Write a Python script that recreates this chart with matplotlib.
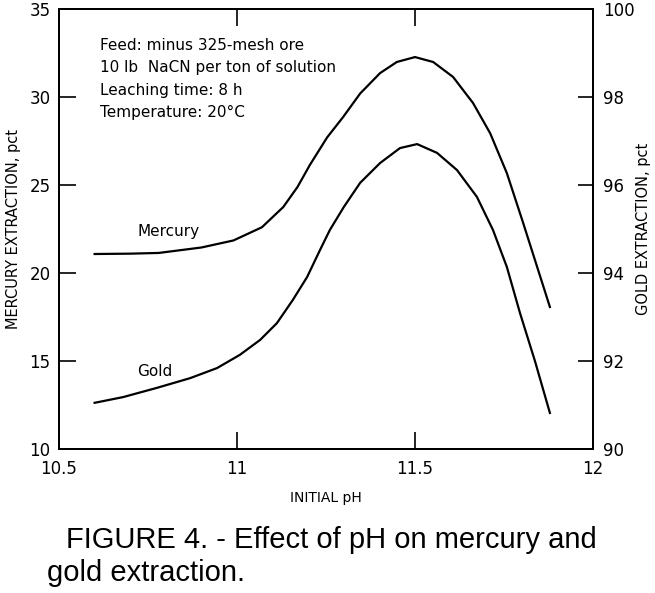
import matplotlib
matplotlib.use("Agg")
import matplotlib.pyplot as plt

# Mercury extraction, pct (left axis) vs initial pH
mercury_ph = [10.60, 10.70, 10.78, 10.90, 10.99, 11.07, 11.13, 11.17, 11.205, 11.253,
              11.298, 11.346, 11.402, 11.449, 11.50, 11.551, 11.607, 11.663, 11.711,
              11.758, 11.803, 11.851, 11.879]
mercury_pct = [21.08, 21.10, 21.14, 21.45, 21.85, 22.6, 23.75, 24.89, 26.15, 27.7,
               28.86, 30.2, 31.36, 31.99, 32.27, 31.99, 31.14, 29.66, 27.95,
               25.68, 22.9, 19.85, 18.07]

# Gold extraction, pct (right axis) vs initial pH
gold_ph = [10.60, 10.68, 10.775, 10.868, 10.944, 11.008, 11.065, 11.112, 11.157, 11.197,
           11.233, 11.261, 11.30, 11.346, 11.402, 11.458, 11.506, 11.562, 11.618,
           11.674, 11.719, 11.758, 11.795, 11.837, 11.879]
gold_pct = [91.05, 91.18, 91.39, 91.61, 91.84, 92.14, 92.48, 92.86, 93.39, 93.91,
            94.52, 94.98, 95.5, 96.05, 96.5, 96.84, 96.93, 96.73, 96.34,
            95.73, 94.98, 94.14, 93.09, 92.0, 90.82]

conditions = ("Feed: minus 325-mesh ore\n"
              "10 lb  NaCN per ton of solution\n"
              "Leaching time: 8 h\n"
              "Temperature: 20\u00b0C")

fig = plt.figure(figsize=(6.55, 5.93), dpi=100)
ax = fig.add_axes([0.0901, 0.2428, 0.8152, 0.7420])
ax2 = ax.twinx()

ax.plot(mercury_ph, mercury_pct, color="black", lw=1.6, solid_joinstyle="round")
ax2.plot(gold_ph, gold_pct, color="black", lw=1.6, solid_joinstyle="round")

ax.set_xlim(10.5, 12)
ax.set_ylim(10, 35)
ax2.set_ylim(90, 100)

ax.set_xticks([10.5, 11, 11.5, 12])
ax.set_xticklabels(["10.5", "11", "11.5", "12"])
ax.set_yticks([10, 15, 20, 25, 30, 35])
ax2.set_yticks([90, 92, 94, 96, 98, 100])

ax.tick_params(axis="both", direction="in", length=12, width=1.2, labelsize=12, pad=6,
               top=True, right=False)
ax.tick_params(axis="x", pad=8)
ax2.tick_params(axis="y", direction="in", length=11, width=1.2, labelsize=12, pad=7)

for a in (ax, ax2):
    for s in a.spines.values():
        s.set_linewidth(1.4)

ax.set_xlabel("INITIAL pH", fontsize=10, labelpad=9)
ax.set_ylabel("MERCURY EXTRACTION, pct", fontsize=10.5, labelpad=6)
ax2.set_ylabel("GOLD EXTRACTION, pct", fontsize=10.5, labelpad=1)

ax.text(0.077, 0.934, conditions, transform=ax.transAxes, fontsize=11,
        va="top", ha="left", linespacing=1.62)
ax.text(10.72, 22.35, "Mercury", fontsize=11, ha="left", va="center")
ax.text(10.72, 14.4, "Gold", fontsize=11, ha="left", va="center")

cap_font = ["Liberation Sans", "DejaVu Sans"]
fig.text(66 / 655, 1 - 540 / 593, "FIGURE 4. - Effect of pH on mercury and",
         fontsize=21, family=cap_font, ha="left", va="center")
fig.text(47 / 655, 1 - 573 / 593, "gold extraction.",
         fontsize=21, family=cap_font, ha="left", va="center")

fig.savefig("out.png", dpi=100)
